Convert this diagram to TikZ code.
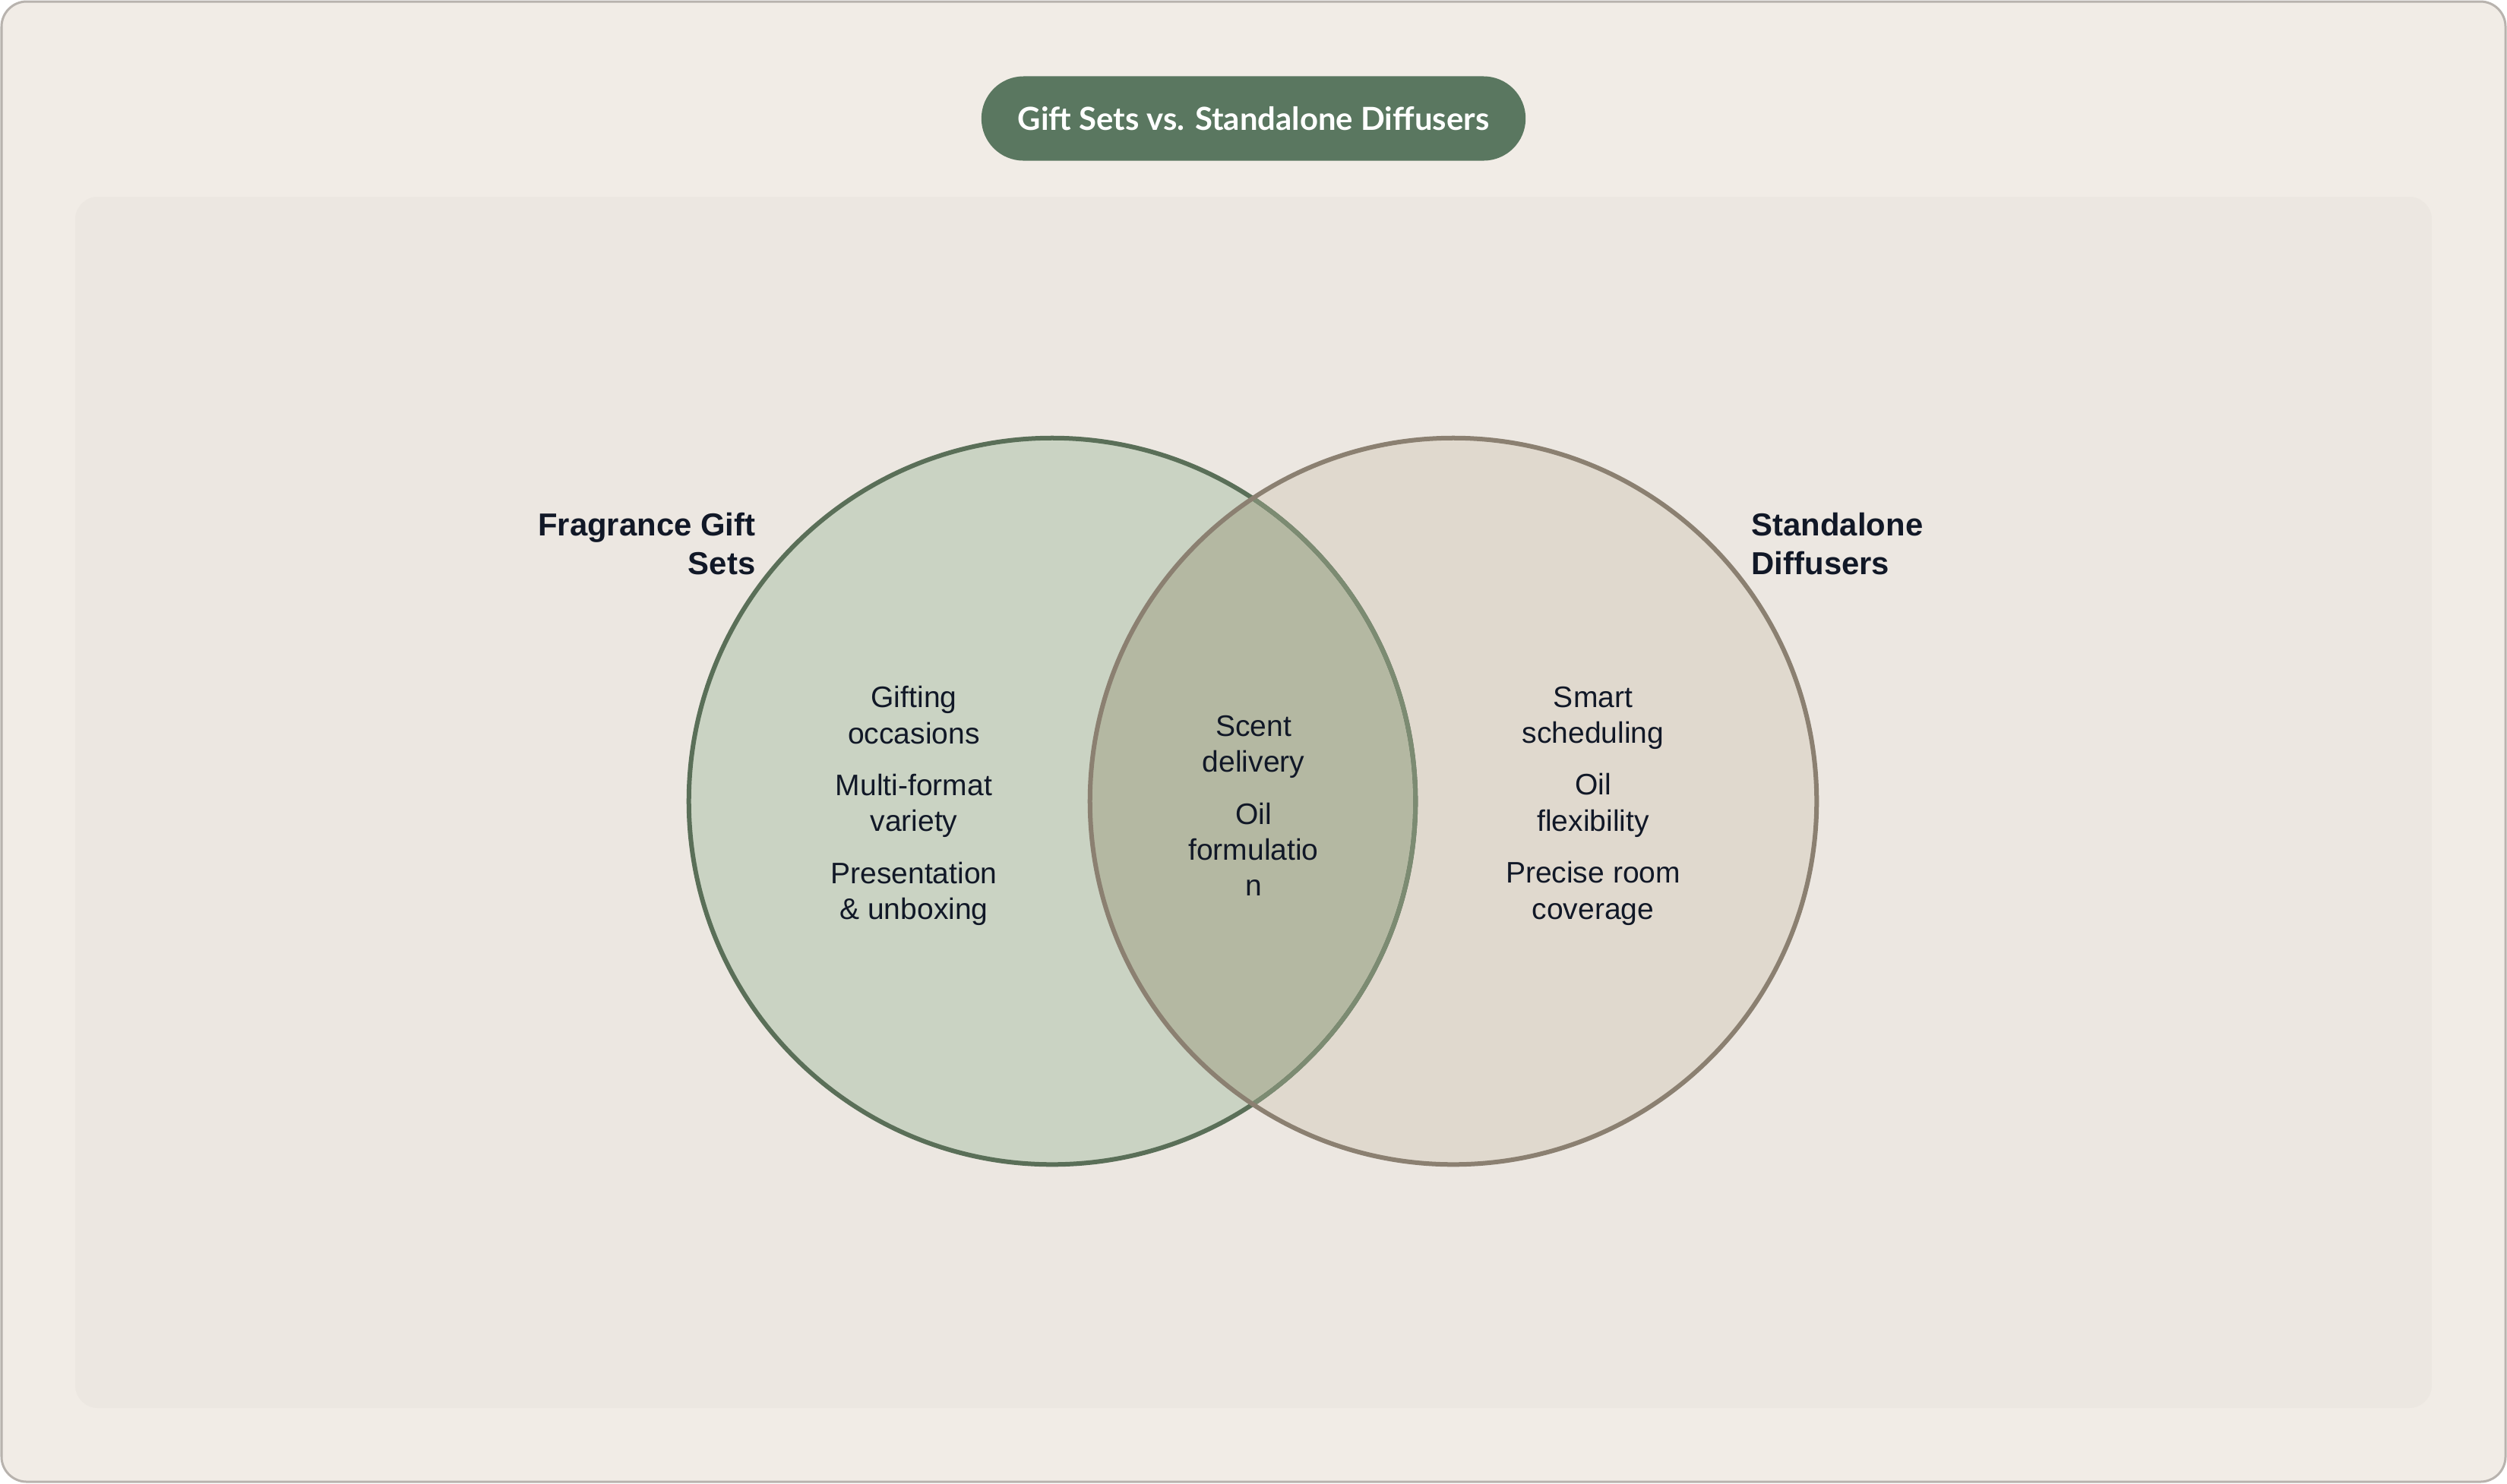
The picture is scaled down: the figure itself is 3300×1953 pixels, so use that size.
\documentclass[tikz,border=0pt]{standalone}
\usepackage{fontspec}
\setmainfont{Liberation Sans}
\newfontfamily\latofont{Lato}
\usepackage{tikz}
\usetikzlibrary{positioning}
\definecolor{VennPage}{HTML}{F1ECE6}
\definecolor{VennPanel}{HTML}{ECE7E1}
\definecolor{VennFrame}{HTML}{B8B3AE}
\definecolor{VennTitle}{HTML}{5A7760}
\definecolor{VennInk}{HTML}{111827}
\definecolor{GiftFill}{HTML}{CAD3C3}
\definecolor{GiftLine}{HTML}{5A6F58}
\definecolor{GiftSoft}{HTML}{7C8B72}
\definecolor{DiffFill}{HTML}{E0D9CE}
\definecolor{DiffLine}{HTML}{8B8071}
\definecolor{LensFill}{HTML}{B4B8A2}

\begin{document}
\begin{tikzpicture}[x=0.01cm, y=-0.01cm, every node/.style={text=VennInk}, pill/.style={rounded corners=0.555cm, fill=VennTitle, minimum width=7.16cm, minimum height=1.11cm, text=white, font=\latofont\bfseries\fontsize{11.9}{14}\selectfont}, setlabel/.style={font=\bfseries\fontsize{11.9}{14.4}\selectfont, inner sep=0pt}, items/.style={align=center, font=\fontsize{11.1}{13.5}\selectfont, inner sep=0pt}, ring/.style={line width=0.06cm}]
\useasboundingbox (0,0) rectangle (3300,1953);
\draw[fill=VennPage, draw=VennFrame, line width=0.03cm, rounded corners=0.33cm] (2,2) rectangle (3298,1951);
\fill[VennPanel, rounded corners=0.3cm] (99,259) rectangle (3201,1854);
\node[pill] (title) at (1650,156) {Gift Sets vs. Standalone Diffusers};
% the two sets
\coordinate (gc) at (1385,1055);
\coordinate (dc) at (1913,1055);
\fill[GiftFill] (gc) circle[radius=4.78cm];
\fill[DiffFill] (dc) circle[radius=4.78cm];
\begin{scope}
\clip (gc) circle[radius=4.78cm];
\fill[LensFill] (dc) circle[radius=4.78cm];
\end{scope}
\draw[ring, GiftLine] (gc) circle[radius=4.78cm];
\begin{scope}
\clip (dc) circle[radius=4.78cm];
\draw[ring, GiftSoft] (gc) circle[radius=4.78cm];
\end{scope}
\draw[ring, DiffLine] (dc) circle[radius=4.78cm];
% labels and items
\node[setlabel, align=right, anchor=east] (giftlabel) at (995,716) {Fragrance Gift\\Sets};
\node[setlabel, align=left, anchor=west] (difflabel) at (2305,716) {Standalone\\Diffusers};
\node[items] (giftitems) at (1203,1061) {Gifting\\occasions\\[5.9pt]Multi-format\\variety\\[5.9pt]Presentation\\\& unboxing};
\node[items] (sharedits) at (1650,1061) {Scent\\delivery\\[5.9pt]Oil\\formulatio\\n};
\node[items] (diffitems) at (2097,1061) {Smart\\scheduling\\[5.9pt]Oil\\flexibility\\[5.9pt]Precise room\\coverage};
\end{tikzpicture}
\end{document}
